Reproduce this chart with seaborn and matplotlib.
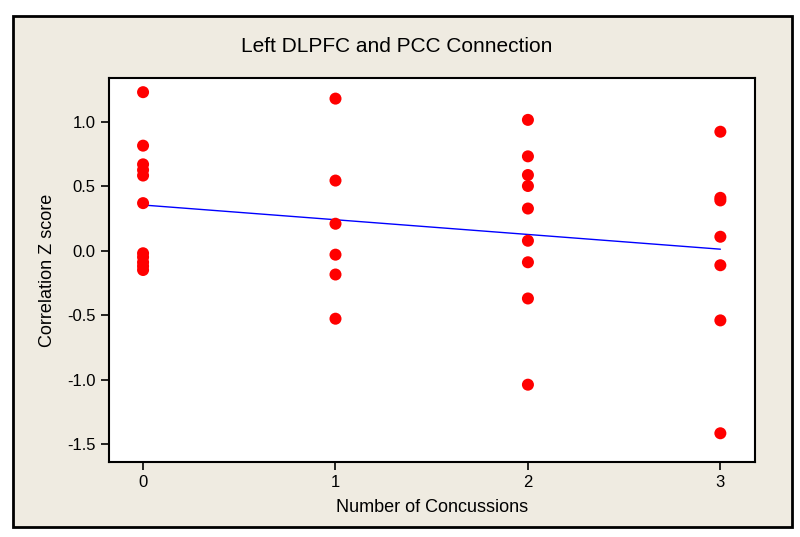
import matplotlib
matplotlib.use('Agg')
import matplotlib.pyplot as plt
import pandas as pd
import seaborn as sns
from matplotlib.patches import Rectangle

# valeurs
conc_0 = [1.23, 0.815, 0.67, 0.626, 0.583, 0.369, -0.02, -0.05, -0.09, -0.12, -0.15]
conc_1 = [1.18, 0.544, 0.209, -0.031, -0.185, -0.528]
conc_2 = [1.015, 0.732, 0.587, 0.502, 0.327, 0.077, -0.09, -0.371, -1.04]
conc_3 = [0.923, 0.41, 0.39, 0.108, -0.113, -0.541, -1.417]

x_ticks = [0, 1, 2, 3]
y_ticks = [-1.5, -1.0, -0.5, 0.0, 0.5, 1.0]

df = pd.DataFrame({
    'concussions': [0] * len(conc_0) + [1] * len(conc_1) + [2] * len(conc_2) + [3] * len(conc_3),
    'zscore': conc_0 + conc_1 + conc_2 + conc_3,
})

sns.set_style('ticks')
plt.rcParams['font.family'] = ['Liberation Sans Narrow', 'Liberation Sans', 'DejaVu Sans']

bg = '#EFEBE1'
fig = plt.figure(figsize=(8, 5.37), dpi=100, facecolor='white')
fig.patches.append(Rectangle((13 / 800, 1 - 527 / 537), 779 / 800, 511 / 537, transform=fig.transFigure,
                             facecolor=bg, edgecolor='black', linewidth=2, zorder=-10))
ax = fig.add_axes([109 / 800, 1 - 462 / 537, 646 / 800, 384 / 537])
ax.set_facecolor('white')

sns.regplot(data=df, x='concussions', y='zscore', ci=None, ax=ax,
            scatter_kws={'color': 'red', 's': 75, 'edgecolors': 'none', 'alpha': 1, 'zorder': 3},
            line_kws={'color': 'blue', 'linewidth': 1, 'zorder': 2})

ax.set_xlim(-0.177, 3.18)
ax.set_ylim(-1.64, 1.34)
ax.set_xticks(x_ticks)
ax.set_xticklabels([str(v) for v in x_ticks])
ax.set_yticks(y_ticks)
ax.set_yticklabels([f'{v:.1f}' for v in y_ticks])
ax.tick_params(direction='out', length=6, width=1.2, labelsize=12, color='black', labelcolor='black')
for s in ax.spines.values():
    s.set_visible(True)
    s.set_linewidth(1.5)
    s.set_color('black')

ax.set_xlabel('Number of Concussions', fontsize=13, labelpad=6, color='black')
ax.set_ylabel('Correlation Z score', fontsize=13, labelpad=8, color='black')
fig.text(397 / 800, 1 - 46 / 537, 'Left DLPFC and PCC Connection', ha='center', va='center',
         fontsize=15, color='black')

fig.savefig('out.png', dpi=100, facecolor='white')
